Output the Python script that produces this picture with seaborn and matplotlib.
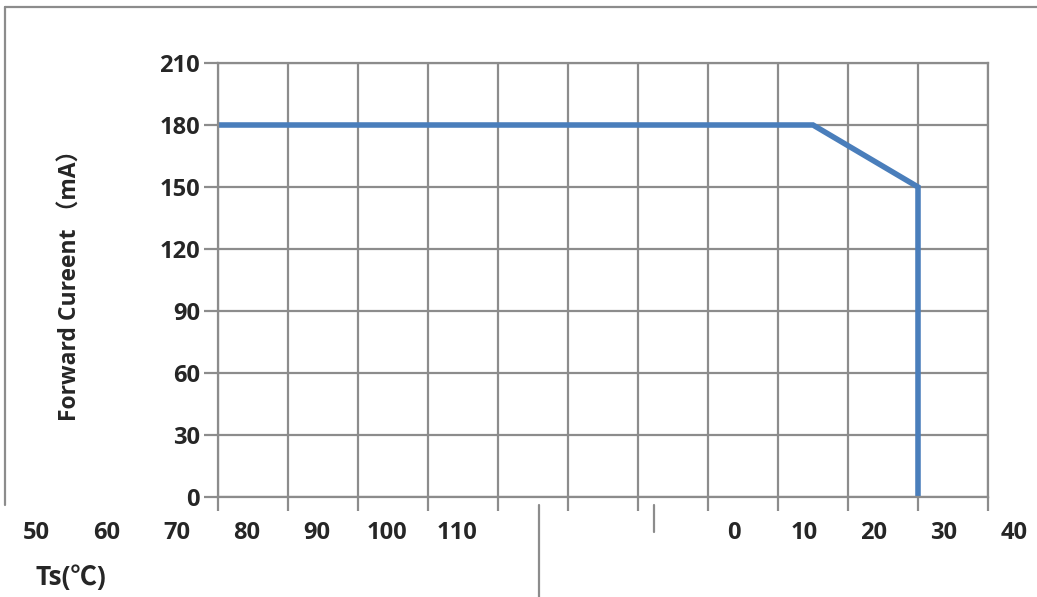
import matplotlib
matplotlib.use("Agg")
import matplotlib.pyplot as plt
from matplotlib.lines import Line2D
import seaborn as sns
import pandas as pd

# Data (Ts in degC, forward current in mA)
ts = [0, 85, 100, 100]
current = [180, 180, 150, 0]
y_ticks = [0, 30, 60, 90, 120, 150, 180, 210]
x_grid = list(range(0, 111, 10))
left_labels = ["50", "60", "70", "80", "90", "100", "110"]
right_labels = ["0", "10", "20", "30", "40"]

sns.set_theme(style="white")
plt.rcParams["font.family"] = ["Open Sans", "Noto Sans CJK SC", "DejaVu Sans"]

fig = plt.figure(figsize=(10.37, 5.97), dpi=100)
ax = fig.add_axes([218 / 1037, 100 / 597, 770 / 1037, 434 / 597])

df = pd.DataFrame({"Ts": ts, "I": current})
sns.lineplot(data=df, x="Ts", y="I", ax=ax, sort=False, estimator=None,
             color="#4A7EBB", linewidth=4, solid_joinstyle="miter", solid_capstyle="butt")

grid_c = "#8C8C8C"
fs = 17
ax.set_xlim(0, 110)
ax.set_ylim(0, 210)
ax.set_xticks(x_grid)
ax.set_xticklabels([])
ax.set_yticks(y_ticks)
ax.set_yticklabels([str(v) for v in y_ticks], fontsize=fs, fontweight="bold")
ax.grid(True, color=grid_c, linewidth=1.6)
ax.set_axisbelow(True)
for s in ax.spines.values():
    s.set_color(grid_c)
    s.set_linewidth(1.6)
ax.tick_params(axis="both", direction="out", length=10, width=1.6, color=grid_c,
               bottom=True, left=True, pad=3)
ax.set_xlabel("")
ax.set_ylabel("Forward Cureent （mA）", fontsize=16.5, fontweight="bold", labelpad=55)

# scrambled x labels as in the reference
xt = ax.get_xaxis_transform()
for i, lab in enumerate(left_labels):
    ax.text(-25.9 + 10 * i, -0.082, lab, transform=xt, ha="center", va="center",
            fontsize=fs, fontweight="bold", clip_on=False)
for i, lab in enumerate(right_labels):
    ax.text(73.7 + 10 * i, -0.082, lab, transform=xt, ha="center", va="center",
            fontsize=fs, fontweight="bold", clip_on=False)

fig.text(71 / 1037, 1 - 577 / 597, "Ts(℃)", ha="center", va="center",
         fontsize=19, fontweight="bold")

# frame decorations
lc = "#8C8C8C"
fig.add_artist(Line2D([5 / 1037, 1], [1 - 7 / 597, 1 - 7 / 597], color=lc, linewidth=1.6))
fig.add_artist(Line2D([5 / 1037, 5 / 1037], [1 - 7 / 597, 1 - 505 / 597], color=lc, linewidth=1.6))
fig.add_artist(Line2D([539 / 1037, 539 / 1037], [1 - 505 / 597, 0], color=lc, linewidth=1.6))
fig.add_artist(Line2D([654 / 1037, 654 / 1037], [1 - 505 / 597, 1 - 532 / 597], color=lc, linewidth=1.6))

fig.savefig("out.png", dpi=100)
